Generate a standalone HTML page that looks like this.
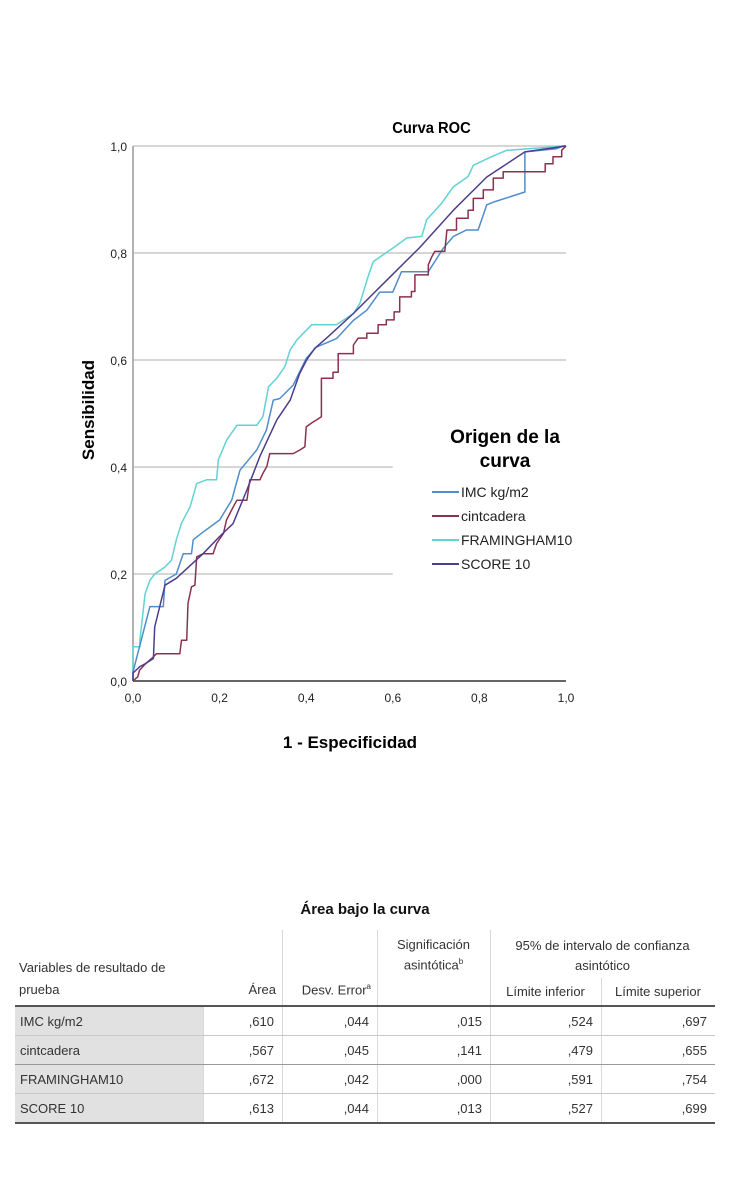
<!DOCTYPE html>
<html><head><meta charset="utf-8">
<style>
body{margin:0;background:#fff;width:750px;height:1200px;overflow:hidden;font-family:"Liberation Sans",sans-serif;}
svg text{font-family:"Liberation Sans",sans-serif;}
</style></head>
<body>
<svg id="chart" width="750" height="880" style="position:absolute;left:0;top:0">
<text x="432" y="133" font-size="16" font-weight="bold" text-anchor="middle" transform="scale(0.92,1) translate(37,0)">Curva ROC</text>
<g id="grid"></g>
<g id="ticks"></g>
<g id="series"></g>
<text x="0" y="0" font-size="17" font-weight="bold" text-anchor="middle" transform="translate(94,410) rotate(-90)">Sensibilidad</text>
<text x="350" y="748" font-size="17" font-weight="bold" text-anchor="middle">1 - Especificidad</text>
<g>
<text x="505" y="443" font-size="19" font-weight="bold" text-anchor="middle">Origen de la</text>
<text x="505" y="467" font-size="19" font-weight="bold" text-anchor="middle">curva</text>
<g id="legend-entries"></g>
</g>
</svg>

<div style="position:absolute;left:0;width:730px;top:901px;text-align:center;font-weight:bold;font-size:15px;color:#111">Área bajo la curva</div>
<div style="position:absolute;left:15px;top:930px;width:700px;height:195px;font-size:13px;color:#333">
 <div style="position:absolute;left:188px;top:0;width:1px;height:76px;"></div>
 <div style="position:absolute;left:267px;top:0;width:1px;height:193px;background:#d8d8d8"></div>
 <div style="position:absolute;left:362px;top:0;width:1px;height:193px;background:#d8d8d8"></div>
 <div style="position:absolute;left:475px;top:0;width:1px;height:193px;background:#d8d8d8"></div>
 <div style="position:absolute;left:586px;top:48px;width:1px;height:145px;background:#d8d8d8"></div>
 <div style="position:absolute;left:188px;top:76px;width:1px;height:117px;background:#d8d8d8"></div>
 <div style="position:absolute;left:4px;top:30px">Variables de resultado de</div>
 <div style="position:absolute;left:4px;top:52px">prueba</div>
 <div style="position:absolute;left:188px;width:73px;text-align:right;top:52px">Área</div>
 <div style="position:absolute;left:267px;width:89px;text-align:right;top:52px">Desv. Error<sup style="font-size:8px">a</sup></div>
 <div style="position:absolute;left:362px;width:113px;text-align:center;top:6px;line-height:17px">Significación<br>asintótica<sup style="font-size:8px">b</sup></div>
 <div style="position:absolute;left:475px;width:225px;text-align:center;top:6px;line-height:20px">95% de intervalo de confianza<br>asintótico</div>
 <div style="position:absolute;left:475px;width:111px;text-align:center;top:54px">Límite inferior</div>
 <div style="position:absolute;left:586px;width:114px;text-align:center;top:54px">Límite superior</div>
 <div style="position:absolute;left:0;top:75px;width:700px;height:2px;background:#555"></div>
 <div id="rows"></div>
 <div style="position:absolute;left:0;top:192px;width:700px;height:2px;background:#555"></div>
</div>

<script>
const xTicks=[0,0.2,0.4,0.6,0.8,1.0];
const yTicks=[0,0.2,0.4,0.6,0.8,1.0];
const tickLabels=["0,0","0,2","0,4","0,6","0,8","1,0"];
const seriesNames=["IMC kg/m2","cintcadera","FRAMINGHAM10","SCORE 10"];
const imcX=[0,0,0.039,0.07,0.074,0.1,0.116,0.135,0.139,0.158,0.2,0.228,0.247,0.286,0.308,0.324,0.339,0.37,0.4,0.423,0.47,0.509,0.54,0.57,0.6,0.62,0.682,0.716,0.74,0.77,0.797,0.817,0.836,0.905,0.905,0.978,0.993,1];
const imcY=[0,0.017,0.139,0.139,0.188,0.2,0.238,0.238,0.264,0.276,0.301,0.338,0.394,0.432,0.469,0.525,0.528,0.553,0.603,0.624,0.64,0.674,0.693,0.727,0.727,0.765,0.765,0.808,0.831,0.843,0.843,0.89,0.896,0.914,0.989,0.995,1,1];
const cintX=[0,0.011,0.015,0.03,0.047,0.054,0.108,0.112,0.124,0.127,0.135,0.143,0.147,0.162,0.185,0.193,0.209,0.216,0.228,0.24,0.263,0.27,0.293,0.3,0.309,0.316,0.37,0.386,0.397,0.4,0.412,0.424,0.435,0.435,0.462,0.462,0.474,0.474,0.509,0.509,0.52,0.54,0.54,0.566,0.566,0.585,0.585,0.603,0.603,0.616,0.616,0.643,0.643,0.651,0.651,0.682,0.682,0.69,0.697,0.72,0.725,0.747,0.747,0.774,0.774,0.786,0.786,0.809,0.809,0.832,0.832,0.855,0.855,0.952,0.952,0.97,0.97,0.99,0.99,1];
const cintY=[0,0.008,0.02,0.033,0.045,0.051,0.051,0.076,0.076,0.145,0.176,0.179,0.232,0.238,0.238,0.257,0.276,0.301,0.32,0.338,0.338,0.376,0.376,0.388,0.401,0.425,0.425,0.432,0.438,0.475,0.482,0.488,0.494,0.566,0.566,0.577,0.577,0.612,0.612,0.628,0.641,0.641,0.65,0.65,0.666,0.666,0.675,0.675,0.69,0.69,0.718,0.718,0.728,0.728,0.759,0.759,0.778,0.793,0.803,0.803,0.843,0.843,0.865,0.865,0.88,0.88,0.902,0.902,0.918,0.918,0.94,0.94,0.952,0.952,0.967,0.967,0.98,0.98,0.992,1];
const framX=[0,0,0.016,0.016,0.028,0.039,0.05,0.074,0.089,0.1,0.112,0.132,0.147,0.17,0.193,0.197,0.216,0.24,0.286,0.3,0.313,0.332,0.351,0.363,0.378,0.413,0.47,0.509,0.524,0.543,0.555,0.589,0.605,0.632,0.667,0.678,0.713,0.74,0.774,0.786,0.828,0.863,1];
const framY=[0,0.064,0.064,0.076,0.163,0.188,0.2,0.213,0.226,0.264,0.295,0.326,0.369,0.376,0.376,0.413,0.45,0.478,0.478,0.494,0.55,0.566,0.588,0.619,0.637,0.666,0.666,0.687,0.706,0.756,0.784,0.803,0.812,0.828,0.831,0.862,0.893,0.924,0.943,0.964,0.98,0.992,1];
const scoreX=[0,0,0.016,0.03,0.047,0.05,0.074,0.1,0.162,0.2,0.231,0.263,0.293,0.332,0.363,0.385,0.401,0.42,0.447,0.509,0.586,0.663,0.74,0.817,0.905,1];
const scoreY=[0,0.015,0.027,0.033,0.042,0.101,0.179,0.192,0.238,0.27,0.294,0.357,0.42,0.488,0.525,0.575,0.6,0.622,0.641,0.687,0.749,0.811,0.88,0.942,0.989,1];
const aucRows=["IMC kg/m2","cintcadera","FRAMINGHAM10","SCORE 10"];
const aucArea=[",610",",567",",672",",613"];
const aucErr=[",044",",045",",042",",044"];
const aucSig=[",015",",141",",000",",013"];
const aucLow=[",524",",479",",591",",527"];
const aucHigh=[",697",",655",",754",",699"];

const NS="http://www.w3.org/2000/svg";
const X0=133,X1=566,Y0=681,Y1=146;
const sx=v=>X0+v*(X1-X0), sy=v=>Y0-v*(Y0-Y1);
const colors=["#4f8dcc","#8c3050","#62d2d2","#4d3d8e"];
function mk(tag,attrs,parent){const e=document.createElementNS(NS,tag);for(const k in attrs)e.setAttribute(k,attrs[k]);parent.appendChild(e);return e;}
const grid=document.getElementById('grid');
yTicks.forEach((t,i)=>{
  if(t===0)return;
  const end=(t<=0.4)?sx(0.6):X1;
  const l=mk('line',{x1:X0,x2:end,y1:sy(t),y2:sy(t),stroke:'#c8c8c8','stroke-width':1.6},grid);
  
  
});
const ax=mk('line',{x1:X0,x2:X0,y1:Y1,y2:Y0,stroke:'#9a9a9a','stroke-width':1.5},grid);


const bx=mk('line',{x1:X0,x2:X1,y1:Y0,y2:Y0,stroke:'#666','stroke-width':2},grid);


const ticks=document.getElementById('ticks');
yTicks.forEach((t,i)=>{
  const tx=mk('text',{x:127,y:sy(t)+5,'font-size':12,'text-anchor':'end',fill:'#222'},ticks);
  tx.textContent=tickLabels[i];
  
  
});
xTicks.forEach((t,i)=>{
  const tx=mk('text',{x:sx(t),y:702,'font-size':12,'text-anchor':'middle',fill:'#222'},ticks);
  tx.textContent=tickLabels[i];
  
  
});
const ser=document.getElementById('series');
const allX=[imcX,cintX,framX,scoreX], allY=[imcY,cintY,framY,scoreY];
const order=[2,0,1,3];
const keys=['imc','cintcadera','framingham10','score10'];
order.forEach(s=>{
  const pts=allX[s].map((x,i)=>sx(x).toFixed(1)+','+sy(allY[s][i]).toFixed(1)).join(' ');
  const p=mk('polyline',{points:pts,fill:'none',stroke:colors[s],'stroke-width':1.5,'stroke-linejoin':'round'},ser);
  
  
});
const leg=document.getElementById('legend-entries');
seriesNames.forEach((n,i)=>{
  const y=492+i*24;
  const l=mk('line',{x1:432,x2:459,y1:y,y2:y,stroke:colors[i],'stroke-width':2},leg);
  
  
  const t=mk('text',{x:461,y:y+5,'font-size':14,fill:'#222'},leg);
  t.textContent=n;
  
  
});
const rows=document.getElementById('rows');
const cols=[[188,267,aucArea],[267,362,aucErr],[362,475,aucSig],[475,586,aucLow],[586,700,aucHigh]];
aucRows.forEach((r,i)=>{
  const top=77+i*29;
  const row=document.createElement('div');
  
  
  row.style.cssText='position:absolute;left:0;top:'+top+'px;width:700px;height:28px;';
  let h='<div style="position:absolute;left:0;top:0;width:188px;height:28px;background:#e1e1e1"></div>';
  h+='<div style="position:absolute;left:5px;top:7px">'+r+'</div>';
  cols.forEach(c=>{h+='<div style="position:absolute;left:'+c[0]+'px;width:'+(c[1]-c[0]-8)+'px;text-align:right;top:7px">'+c[2][i]+'</div>';});
  if(i<3)h+='<div style="position:absolute;left:0;top:28px;width:700px;height:1px;background:'+(i==1?'#999':'#c8c8c8')+'"></div>';
  row.innerHTML=h;
  rows.appendChild(row);
});
</script>
</body></html>
